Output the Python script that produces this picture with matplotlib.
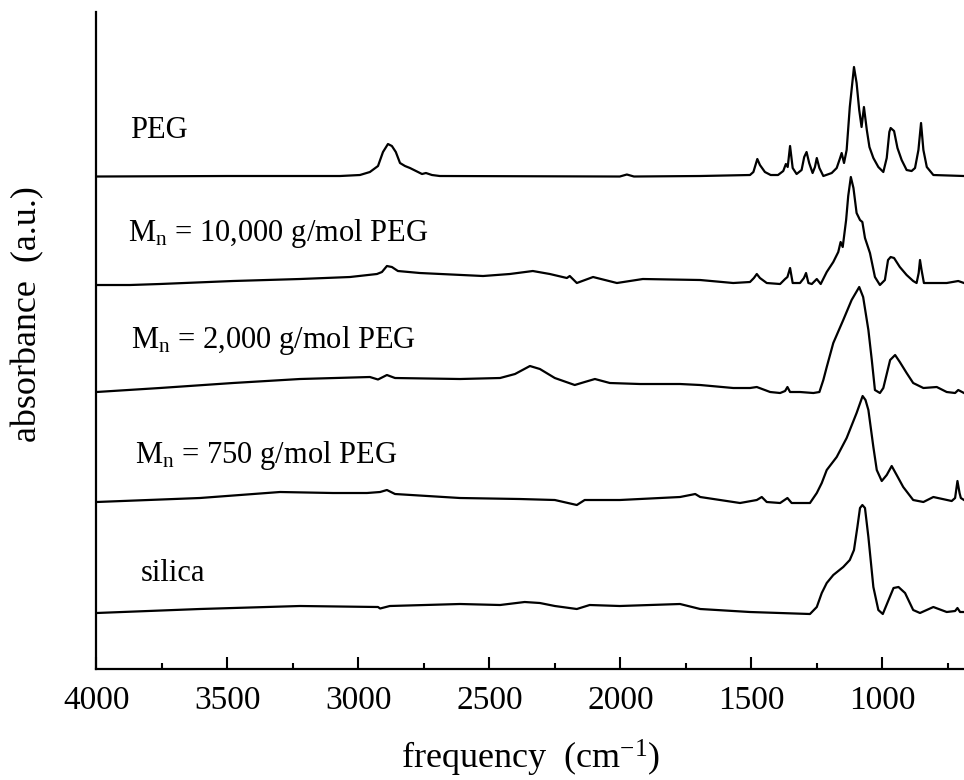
import numpy as np
import matplotlib
matplotlib.use("Agg")
import matplotlib.pyplot as plt
from matplotlib.ticker import MultipleLocator

plt.rcParams['font.family'] = ['Liberation Serif', 'DejaVu Serif']
plt.rcParams['mathtext.fontset'] = 'custom'
plt.rcParams['mathtext.rm'] = 'Liberation Serif'
plt.rcParams['mathtext.it'] = 'Liberation Serif:italic'

# spectra: wavenumber (cm-1) and absorbance (a.u., stacked)
peg_w = [4000, 3500, 3070, 2994, 2956, 2925, 2906, 2887, 2872, 2857, 2841, 2822, 2803, 2780,
         2757, 2742, 2719, 2689, 2002, 1975, 1948, 1695, 1505, 1492, 1477, 1467, 1448, 1426,
         1398, 1378, 1368, 1361, 1352, 1342, 1327, 1308, 1298, 1289, 1279, 1266, 1257, 1250,
         1240, 1225, 1193, 1174, 1161, 1155, 1146, 1136, 1124, 1108, 1098, 1088, 1079, 1070,
         1059, 1049, 1034, 1015, 996, 983, 973, 968, 955, 942, 926, 907, 888, 875, 862, 852,
         843, 830, 805, 688]
peg_a = [5.145, 5.15, 5.15, 5.16, 5.19, 5.25, 5.39, 5.47, 5.45, 5.39, 5.28, 5.25, 5.23, 5.20,
         5.17, 5.18, 5.16, 5.15, 5.145, 5.165, 5.145, 5.15, 5.16, 5.19, 5.32, 5.26, 5.19, 5.16,
         5.16, 5.20, 5.27, 5.24, 5.45, 5.23, 5.17, 5.21, 5.34, 5.39, 5.28, 5.18, 5.24, 5.33,
         5.23, 5.15, 5.18, 5.23, 5.33, 5.38, 5.28, 5.41, 5.84, 6.24, 6.08, 5.81, 5.64, 5.84,
         5.61, 5.44, 5.33, 5.24, 5.19, 5.33, 5.59, 5.63, 5.60, 5.43, 5.31, 5.21, 5.20, 5.23,
         5.41, 5.68, 5.41, 5.24, 5.16, 5.15]

p10k_w = [4000, 3872, 3758, 3479, 3223, 3032, 2929, 2910, 2891, 2872, 2849, 2765, 2524, 2422,
          2334, 2269, 2204, 2193, 2166, 2104, 2013, 1914, 1695, 1569, 1505, 1490, 1479, 1467,
          1441, 1390, 1371, 1362, 1352, 1342, 1314, 1299, 1291, 1282, 1269, 1250, 1235, 1212,
          1187, 1168, 1159, 1151, 1138, 1130, 1120, 1110, 1098, 1085, 1076, 1066, 1047, 1028,
          1009, 990, 978, 968, 955, 933, 907, 882, 869, 861, 856, 850, 841, 805, 754, 710, 688]
p10k_a = [4.06, 4.06, 4.07, 4.10, 4.12, 4.14, 4.17, 4.19, 4.25, 4.24, 4.20, 4.18, 4.15, 4.17,
          4.20, 4.17, 4.13, 4.15, 4.08, 4.14, 4.08, 4.12, 4.11, 4.08, 4.09, 4.13, 4.17, 4.13,
          4.08, 4.07, 4.12, 4.14, 4.23, 4.08, 4.08, 4.13, 4.18, 4.08, 4.07, 4.12, 4.07, 4.19,
          4.29, 4.39, 4.49, 4.44, 4.71, 4.95, 5.14, 5.03, 4.78, 4.71, 4.69, 4.53, 4.38, 4.14,
          4.06, 4.11, 4.31, 4.34, 4.33, 4.24, 4.16, 4.10, 4.08, 4.18, 4.31, 4.21, 4.08, 4.08,
          4.08, 4.10, 4.08]

p2k_w = [4000, 3758, 3479, 3223, 2956, 2925, 2891, 2860, 2612, 2459, 2402, 2345, 2307, 2250,
         2174, 2136, 2097, 2040, 1925, 1772, 1695, 1569, 1505, 1479, 1428, 1390, 1371, 1362,
         1352, 1314, 1263, 1240, 1225, 1212, 1187, 1149, 1117, 1088, 1073, 1053, 1040, 1028,
         1009, 996, 970, 951, 933, 907, 882, 843, 792, 754, 722, 710, 688]
p2k_a = [2.99, 3.03, 3.08, 3.12, 3.14, 3.115, 3.16, 3.13, 3.12, 3.13, 3.17, 3.25, 3.22, 3.13,
         3.06, 3.09, 3.12, 3.08, 3.07, 3.07, 3.06, 3.03, 3.03, 3.04, 2.99, 2.98, 3.00, 3.04,
         2.99, 2.99, 2.98, 2.99, 3.11, 3.24, 3.48, 3.71, 3.91, 4.04, 3.94, 3.61, 3.31, 3.01,
         2.98, 3.03, 3.31, 3.36, 3.29, 3.18, 3.08, 3.03, 3.04, 2.99, 2.98, 3.01, 2.98]

p750_w = [4000, 3605, 3299, 3097, 2967, 2917, 2891, 2860, 2612, 2384, 2250, 2166, 2136, 2002,
          1772, 1714, 1695, 1619, 1543, 1479, 1460, 1441, 1390, 1362, 1346, 1289, 1276, 1250,
          1231, 1212, 1174, 1136, 1098, 1075, 1064, 1053, 1034, 1021, 1002, 983, 964, 945,
          920, 882, 843, 805, 735, 722, 713, 705, 700, 688]
p750_a = [1.89, 1.93, 1.99, 1.98, 1.98, 1.99, 2.01, 1.97, 1.93, 1.92, 1.91, 1.86, 1.91, 1.91,
          1.94, 1.97, 1.94, 1.91, 1.88, 1.91, 1.94, 1.89, 1.88, 1.93, 1.88, 1.88, 1.88, 1.98,
          2.08, 2.21, 2.34, 2.53, 2.78, 2.95, 2.91, 2.81, 2.44, 2.21, 2.10, 2.16, 2.25, 2.16,
          2.04, 1.91, 1.89, 1.94, 1.90, 1.93, 2.10, 1.98, 1.93, 1.91]

sil_w = [4000, 3605, 3223, 2925, 2917, 2880, 2612, 2459, 2365, 2307, 2250, 2166, 2117, 2002,
         1887, 1772, 1695, 1505, 1276, 1250, 1231, 1212, 1187, 1149, 1124, 1108, 1095, 1085,
         1076, 1066, 1053, 1034, 1015, 998, 976, 957, 938, 913, 882, 856, 805, 754, 722, 713,
         703, 688]
sil_a = [0.78, 0.82, 0.85, 0.84, 0.825, 0.85, 0.87, 0.86, 0.89, 0.88, 0.85, 0.82, 0.86, 0.85,
         0.86, 0.87, 0.82, 0.79, 0.77, 0.84, 0.98, 1.08, 1.16, 1.24, 1.31, 1.41, 1.64, 1.83,
         1.86, 1.83, 1.54, 1.04, 0.81, 0.77, 0.91, 1.03, 1.04, 0.98, 0.81, 0.78, 0.84, 0.79,
         0.80, 0.83, 0.79, 0.79]

labels = ['PEG', r'M$_\mathrm{n}$ = 10,000 g/mol PEG', r'M$_\mathrm{n}$ = 2,000 g/mol PEG',
          r'M$_\mathrm{n}$ = 750 g/mol PEG', 'silica']
label_w = [3872, 3880, 3868, 3853, 3830]
label_a = [5.61, 4.58, 3.51, 2.36, 1.18]

fig = plt.figure(figsize=(9.64, 7.8), dpi=100)
ax = fig.add_axes([0.1, 0.1423, 0.9, 0.8423])

for w, a in [(peg_w, peg_a), (p10k_w, p10k_a), (p2k_w, p2k_a), (p750_w, p750_a), (sil_w, sil_a)]:
    ax.plot(w, a, color='black', lw=1.6)

for t, x, y in zip(labels, label_w, label_a):
    ax.text(x, y, t, fontsize=22, va='center', ha='left')

ax.set_xlim(4000, 688)
ax.set_ylim(0.22, 6.79)
ax.xaxis.set_major_locator(MultipleLocator(500))
ax.xaxis.set_minor_locator(MultipleLocator(250))
ax.tick_params(axis='x', which='major', direction='in', length=8.5, width=1.5, labelsize=24, pad=12)
ax.tick_params(axis='x', which='minor', direction='in', length=4.3, width=1.5)
ax.set_yticks([])
for s in ['top', 'right']:
    ax.spines[s].set_visible(False)
for s in ['left', 'bottom']:
    ax.spines[s].set_linewidth(1.6)

ax.set_xlabel('frequency  (cm$^{-1}$)', fontsize=26, labelpad=16)
ax.set_ylabel('absorbance  (a.u.)', fontsize=26)
ax.yaxis.set_label_coords(-0.06, 0.54)

fig.savefig('out.png', dpi=100)
